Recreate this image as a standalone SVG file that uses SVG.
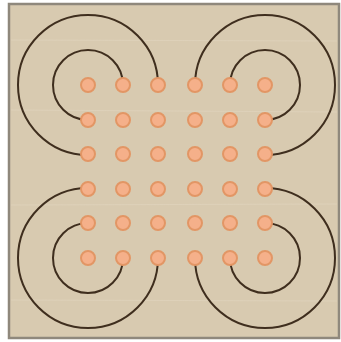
<svg xmlns="http://www.w3.org/2000/svg" width="341" height="342" viewBox="0 0 341 342">
<style>
.dot{fill:#f5b08a;stroke:#e29665;stroke-width:2}
.arc{fill:none;stroke:#3f2e1e;stroke-width:2}
</style>
<rect x="0" y="0" width="341" height="342" fill="#ffffff"/>
<g id="board">
<rect x="9" y="4" width="330" height="334" fill="#d8cab0" stroke="#8f887c" stroke-width="2.5"/>
<g stroke="#e2d6c0" stroke-width="1" opacity="0.6">
<line x1="11" y1="40" x2="337" y2="41"/>
<line x1="11" y1="110" x2="337" y2="112"/>
<line x1="11" y1="205" x2="337" y2="204"/>
<line x1="11" y1="300" x2="337" y2="301"/>
</g>
</g>
<g id="connectors">
<path class="arc" d="M123,85 A35,35 0 1 0 88,120"/>
<path class="arc" d="M158,85 A70,70 0 1 0 88,155"/>
<path class="arc" d="M230,85 A35,35 0 1 1 265,120"/>
<path class="arc" d="M195,85 A70,70 0 1 1 265,155"/>
<path class="arc" d="M88,223 A35,35 0 1 0 123,258"/>
<path class="arc" d="M88,188 A70,70 0 1 0 158,258"/>
<path class="arc" d="M265,223 A35,35 0 1 1 230,258"/>
<path class="arc" d="M265,188 A70,70 0 1 1 195,258"/>
</g>
<g id="dots">
<g id="r1"><circle class="dot" cx="88" cy="85" r="7"/><circle class="dot" cx="123" cy="85" r="7"/><circle class="dot" cx="158" cy="85" r="7"/><circle class="dot" cx="195" cy="85" r="7"/><circle class="dot" cx="230" cy="85" r="7"/><circle class="dot" cx="265" cy="85" r="7"/></g>
<g id="r2"><circle class="dot" cx="88" cy="120" r="7"/><circle class="dot" cx="123" cy="120" r="7"/><circle class="dot" cx="158" cy="120" r="7"/><circle class="dot" cx="195" cy="120" r="7"/><circle class="dot" cx="230" cy="120" r="7"/><circle class="dot" cx="265" cy="120" r="7"/></g>
<g id="r3"><circle class="dot" cx="88" cy="154" r="7"/><circle class="dot" cx="123" cy="154" r="7"/><circle class="dot" cx="158" cy="154" r="7"/><circle class="dot" cx="195" cy="154" r="7"/><circle class="dot" cx="230" cy="154" r="7"/><circle class="dot" cx="265" cy="154" r="7"/></g>
<g id="r4"><circle class="dot" cx="88" cy="189" r="7"/><circle class="dot" cx="123" cy="189" r="7"/><circle class="dot" cx="158" cy="189" r="7"/><circle class="dot" cx="195" cy="189" r="7"/><circle class="dot" cx="230" cy="189" r="7"/><circle class="dot" cx="265" cy="189" r="7"/></g>
<g id="r5"><circle class="dot" cx="88" cy="223" r="7"/><circle class="dot" cx="123" cy="223" r="7"/><circle class="dot" cx="158" cy="223" r="7"/><circle class="dot" cx="195" cy="223" r="7"/><circle class="dot" cx="230" cy="223" r="7"/><circle class="dot" cx="265" cy="223" r="7"/></g>
<g id="r6"><circle class="dot" cx="88" cy="258" r="7"/><circle class="dot" cx="123" cy="258" r="7"/><circle class="dot" cx="158" cy="258" r="7"/><circle class="dot" cx="195" cy="258" r="7"/><circle class="dot" cx="230" cy="258" r="7"/><circle class="dot" cx="265" cy="258" r="7"/></g>
</g>
</svg>
